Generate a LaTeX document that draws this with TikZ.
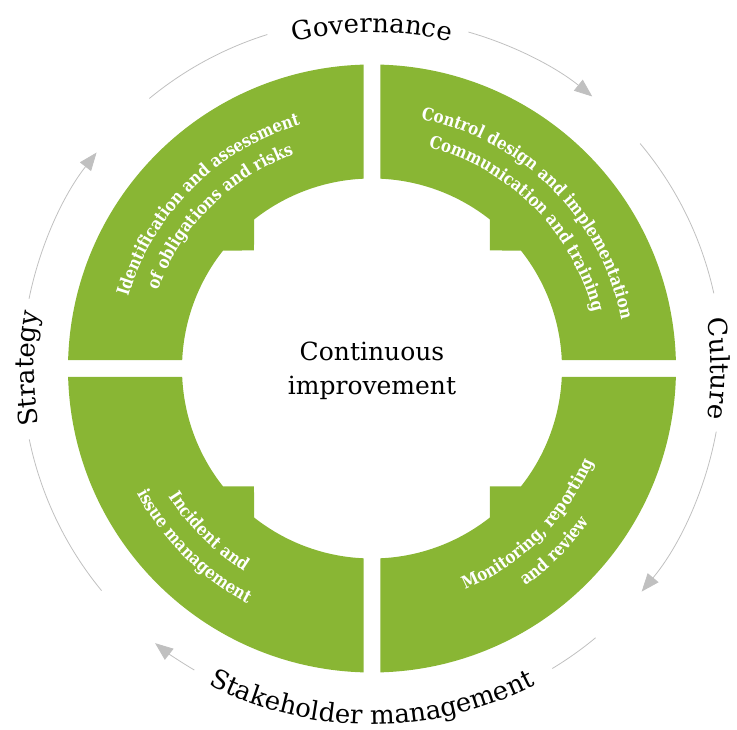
\documentclass[tikz,border=0pt]{standalone}
\usepackage{fontspec}
\setmainfont{DejaVu Serif}
\newfontfamily\stagefamily[FakeStretch=0.86]{DejaVu Serif}
\usetikzlibrary{arrows.meta,decorations.text}

\definecolor{ringgreen}{RGB}{137,182,52}
\definecolor{cyclegray}{RGB}{192,192,192}

\newcommand{\labelfont}{\fontsize{26}{30}\selectfont}
\newcommand{\centrefont}{\fontsize{25}{34}\selectfont}
\newcommand{\stagefont}{\stagefamily\bfseries\fontsize{17.5}{20}\selectfont}

\begin{document}
\begin{tikzpicture}[x=1pt, y=1pt,
    quarter/.style={fill=ringgreen},
    cycleline/.style={draw=cyclegray, line width=0.8pt},
    cyclearrow/.style={cycleline, -{Triangle[length=18pt, width=14pt]}},
    ringtext/.style={decorate, decoration={text along path, text align=center, text color=#1}}]

\useasboundingbox (-372,-361.5) rectangle (365,368.5);

% ring quarters
\foreach \a in {0,90,180,270}
    \fill[quarter, rotate=\a] (91.6:304) arc[start angle=91.6, end angle=178.4, radius=304pt]
        -- (177.44:190) arc[start angle=177.44, end angle=141.61, radius=190pt]
        -- (-118,118) -- (128.39:190) arc[start angle=128.39, end angle=92.56, radius=190pt] -- cycle;

% cycle arrows
\draw[cyclearrow] (74:350) arc[start angle=74, end angle=51, radius=350pt];
\draw[cycleline] (40:350) arc[start angle=40, end angle=12.4, radius=350pt];
\draw[cyclearrow] (-10.4:350) arc[start angle=-10.4, end angle=-39.6, radius=350pt];
\draw[cycleline] (-50.3:350) arc[start angle=-50.3, end angle=-59, radius=350pt];
\draw[cyclearrow] (-120.5:350) arc[start angle=-120.5, end angle=-128.3, radius=350pt];
\draw[cycleline] (-140.6:350) arc[start angle=-140.6, end angle=-168.3, radius=350pt];
\draw[cyclearrow] (168.5:350) arc[start angle=168.5, end angle=141.9, radius=350pt];
\draw[cycleline] (129.5:350) arc[start angle=129.5, end angle=107.4, radius=350pt];

% outer labels
\path[ringtext=black, decoration={text={|\labelfont|Governance}}] (120:336) arc[start angle=120, end angle=60, radius=336pt];
\path[ringtext=black, decoration={text={|\labelfont|Culture}}] (30:339) arc[start angle=30, end angle=-30, radius=339pt];
\path[ringtext=black, decoration={text={|\labelfont|Strategy}}] (210:338) arc[start angle=210, end angle=150, radius=338pt];
\path[ringtext=black, decoration={text={|\labelfont|Stakeholder management}}] (215:356) arc[start angle=215, end angle=325, radius=356pt];

% quarter texts
\path[ringtext=white, decoration={text={|\stagefont|Identification and assessment}}] (180:254) arc[start angle=180, end angle=90, radius=254pt];
\path[ringtext=white, decoration={text={|\stagefont|of obligations and risks}}] (180:228) arc[start angle=180, end angle=90, radius=228pt];
\path[ringtext=white, decoration={text={|\stagefont|Control design and implementation}}] (90:254) arc[start angle=90, end angle=0, radius=254pt];
\path[ringtext=white, decoration={text={|\stagefont|Communication and training}}] (90:228) arc[start angle=90, end angle=0, radius=228pt];
\path[ringtext=white, decoration={text={|\stagefont|Monitoring, reporting}}] (-90:240) arc[start angle=-90, end angle=0, radius=240pt];
\path[ringtext=white, decoration={text={|\stagefont|and review}}] (-90:266) arc[start angle=-90, end angle=0, radius=266pt];
\path[ringtext=white, decoration={text={|\stagefont|Incident and}}] (180:240) arc[start angle=180, end angle=270, radius=240pt];
\path[ringtext=white, decoration={text={|\stagefont|issue management}}] (180:266) arc[start angle=180, end angle=270, radius=266pt];

% centre
\node[align=center, font=\centrefont] (centre) at (0,-2) {Continuous\\improvement};

\end{tikzpicture}
\end{document}
